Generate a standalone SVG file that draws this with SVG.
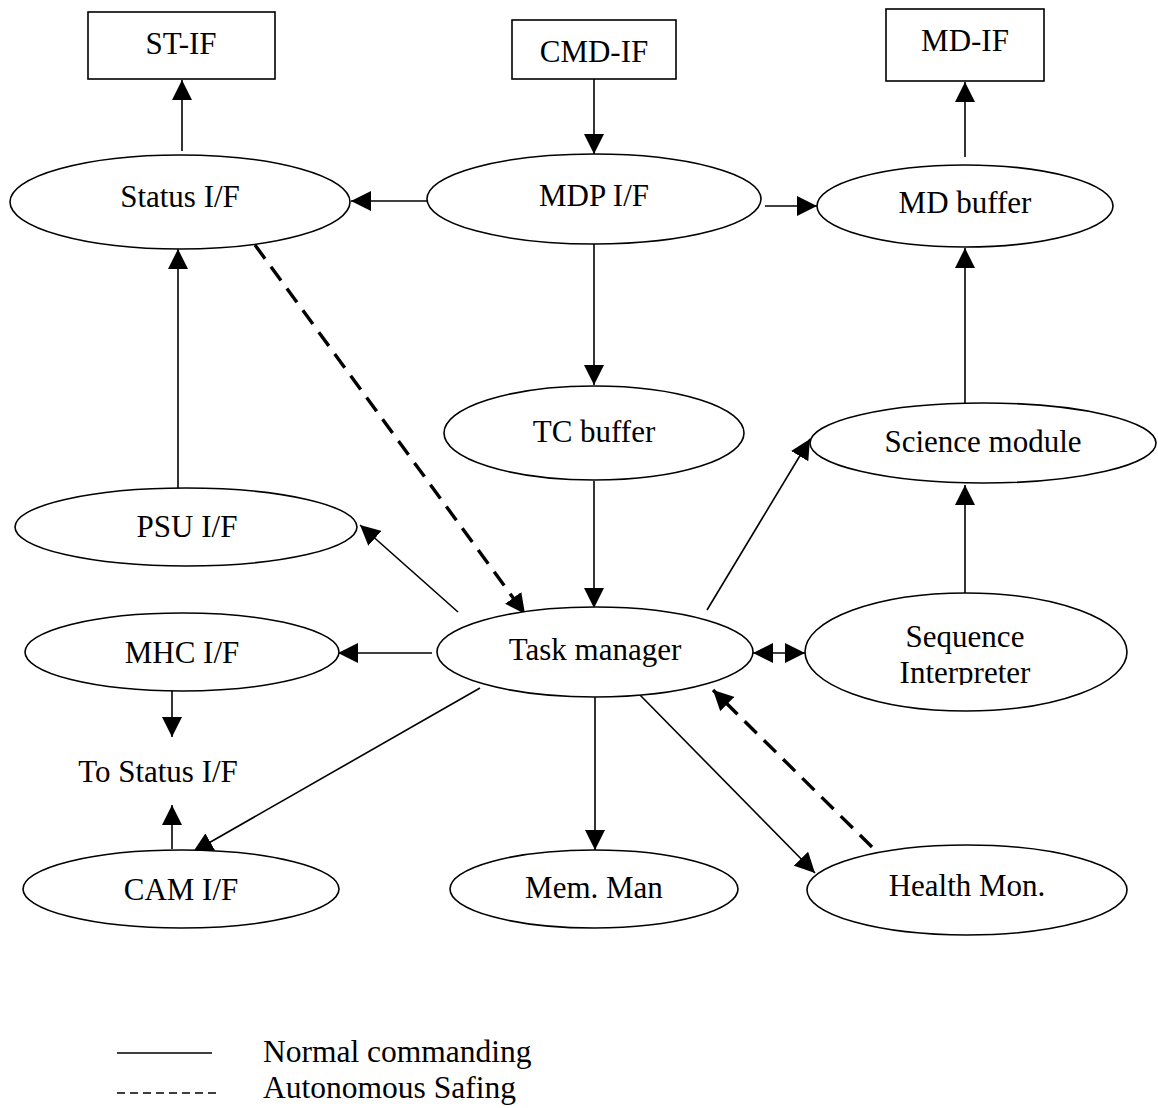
<svg xmlns="http://www.w3.org/2000/svg" width="1158" height="1108" viewBox="0 0 1158 1108">
<style>
.box{fill:#fff;stroke:#000;stroke-width:1.6}
.el{fill:#fff;stroke:#000;stroke-width:1.6}
.t{font-family:"Liberation Serif","Times New Roman",serif;font-size:31px;fill:#000;text-anchor:middle}
.tl{font-family:"Liberation Serif","Times New Roman",serif;font-size:31.5px;fill:#000}
.e{stroke:#000;stroke-width:1.6;fill:none;marker-end:url(#ah)}
.d{stroke:#000;stroke-width:3.4;fill:none;stroke-dasharray:17 10;marker-end:url(#ah)}
</style>
<defs>
<marker id="ah" markerUnits="userSpaceOnUse" markerWidth="22" markerHeight="20" refX="20" refY="10" orient="auto-start-reverse" viewBox="0 0 22 20">
<path d="M0,0 L20,10 L0,20 z" fill="#000"/>
</marker>
<clipPath id="clipInterp"><rect x="800" y="600" width="340" height="85"/></clipPath>
</defs>
<rect width="1158" height="1108" fill="#fff"/>
<g id="connectors">
<line class="e" x1="182" y1="151" x2="182" y2="80"/>
<line class="e" x1="594" y1="79" x2="594" y2="154"/>
<line class="e" x1="965" y1="157" x2="965" y2="82"/>
<line class="e" x1="427" y1="201" x2="351" y2="201"/>
<line class="e" x1="765" y1="206" x2="817" y2="206"/>
<line class="d" x1="255" y1="245" x2="525" y2="614"/>
<line class="e" x1="178" y1="488" x2="178" y2="249"/>
<line class="e" x1="594" y1="244" x2="594" y2="385"/>
<line class="e" x1="594" y1="481" x2="594" y2="608"/>
<line class="e" x1="965" y1="404" x2="965" y2="248"/>
<line class="e" x1="458" y1="612" x2="360" y2="525"/>
<line class="e" x1="432" y1="653" x2="338" y2="653"/>
<line class="e" x1="753" y1="653" x2="805" y2="653" style="marker-start:url(#ah)"/>
<line class="e" x1="965" y1="593" x2="965" y2="485"/>
<line class="e" x1="707" y1="610" x2="810" y2="439"/>
<line class="e" x1="172" y1="691" x2="172" y2="737"/>
<line class="e" x1="172" y1="849" x2="172" y2="805"/>
<line class="e" x1="480" y1="688" x2="193" y2="852"/>
<line class="e" x1="595" y1="697" x2="595" y2="850"/>
<line class="e" x1="640" y1="695" x2="815" y2="873"/>
<line class="d" x1="872" y1="847" x2="713" y2="690"/>
</g>
<g id="st-if"><rect class="box" x="88" y="12" width="187" height="67"/><text class="t" x="181" y="54">ST-IF</text></g>
<g id="cmd-if"><rect class="box" x="512" y="20" width="164" height="59"/><text class="t" x="594" y="62">CMD-IF</text></g>
<g id="md-if"><rect class="box" x="886" y="9" width="158" height="72"/><text class="t" x="965" y="51">MD-IF</text></g>
<g id="status-if"><ellipse class="el" cx="180" cy="202" rx="170" ry="47"/><text class="t" x="180" y="207">Status I/F</text></g>
<g id="mdp-if"><ellipse class="el" cx="594" cy="199" rx="167" ry="45"/><text class="t" x="594" y="206">MDP I/F</text></g>
<g id="md-buffer"><ellipse class="el" cx="965" cy="206" rx="148" ry="41"/><text class="t" x="965" y="213">MD buffer</text></g>
<g id="tc-buffer"><ellipse class="el" cx="594" cy="433" rx="150" ry="47"/><text class="t" x="594" y="442">TC buffer</text></g>
<g id="science-module"><ellipse class="el" cx="983" cy="443" rx="173" ry="40"/><text class="t" x="983" y="452">Science module</text></g>
<g id="psu-if"><ellipse class="el" cx="186" cy="527" rx="171" ry="39"/><text class="t" x="187" y="537">PSU I/F</text></g>
<g id="task-manager"><ellipse class="el" cx="595" cy="652" rx="158" ry="45"/><text class="t" x="595" y="660">Task manager</text></g>
<g id="mhc-if"><ellipse class="el" cx="182" cy="652" rx="157" ry="39"/><text class="t" x="182" y="663">MHC I/F</text></g>
<g id="sequence-interpreter"><ellipse class="el" cx="966" cy="652" rx="161" ry="59"/><text class="t" x="965" y="647">Sequence</text><text class="t" x="965" y="683" clip-path="url(#clipInterp)">Interpreter</text></g>
<g id="to-status-if"><text class="t" x="158" y="782">To Status I/F</text></g>
<g id="cam-if"><ellipse class="el" cx="181" cy="889" rx="158" ry="39"/><text class="t" x="181" y="900">CAM I/F</text></g>
<g id="mem-man"><ellipse class="el" cx="594" cy="889" rx="144" ry="39"/><text class="t" x="594" y="898">Mem. Man</text></g>
<g id="health-mon"><ellipse class="el" cx="967" cy="890" rx="160" ry="45"/><text class="t" x="967" y="896">Health Mon.</text></g>
<g id="legend">
<line x1="117" y1="1053" x2="212" y2="1053" stroke="#000" stroke-width="1.6"/>
<line x1="117" y1="1093" x2="217" y2="1093" stroke="#000" stroke-width="1.4" stroke-dasharray="8 5"/>
<text class="tl" x="263" y="1062">Normal commanding</text>
<text class="tl" x="263" y="1098">Autonomous Safing</text>
</g>
</svg>
